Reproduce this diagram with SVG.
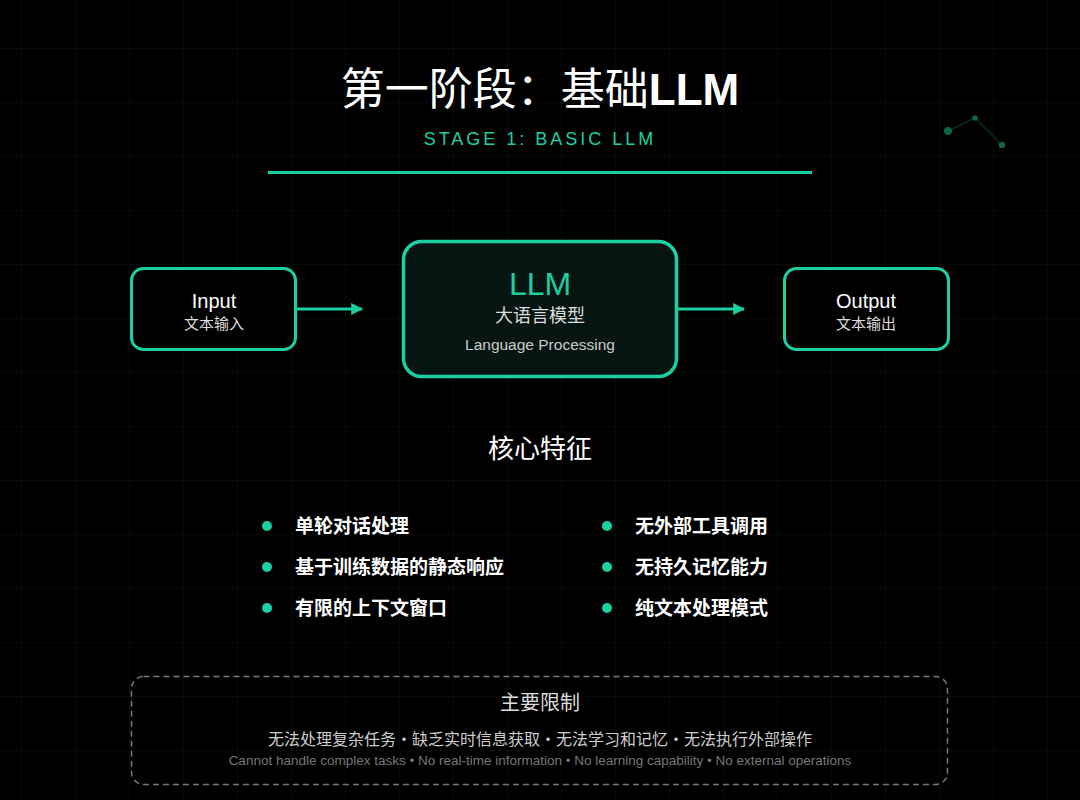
<svg xmlns="http://www.w3.org/2000/svg" width="1080" height="800" viewBox="0 0 1080 800">
<defs>
<pattern id="grid" width="54" height="54" patternUnits="userSpaceOnUse" x="-32" y="-5">
<path d="M54 0V54H0" fill="none" stroke="#0e1311" stroke-width="1"/>
</pattern>
<marker id="arr" viewBox="0 0 10 10" refX="9" refY="5" markerWidth="4" markerHeight="4" orient="auto" markerUnits="strokeWidth">
<path d="M0 0L10 5L0 10z" fill="#1ccfa2"/>
</marker>
</defs>
<style>
.box{fill:#000;stroke:#1ccfa2;stroke-width:3}
.t{font-family:"Liberation Sans","Noto Sans CJK SC",sans-serif;text-anchor:middle}
.c{font-family:"Noto Sans CJK SC",sans-serif;text-anchor:middle}
.li{font-family:"Noto Sans CJK SC",sans-serif;font-size:19px;font-weight:bold;fill:#fff}
.dot{fill:#1ccfa2}
</style>
<rect width="1080" height="800" fill="#000"/>
<rect width="1080" height="800" fill="url(#grid)"/>
<g id="deco" opacity="0.6">
<path d="M948 131L975 118L1002 145" stroke="#0e4a3a" stroke-width="1.5" fill="none"/>
<circle cx="948" cy="131" r="4" fill="#1aa37f"/>
<circle cx="975" cy="118" r="2.8" fill="#1aa37f"/>
<circle cx="1002" cy="145" r="3.3" fill="#1aa37f"/>
</g>
<text x="540" y="105" class="c" font-size="44" fill="#fff">第一阶段：基础<tspan font-family="Liberation Sans" font-weight="bold">LLM</tspan></text>
<text x="540" y="145" class="t" font-size="18" fill="#1ccfa2" letter-spacing="3">STAGE 1: BASIC LLM</text>
<rect x="268" y="171" width="544" height="3" fill="#1ccfa2"/>
<g id="connectors">
<line x1="297" y1="309" x2="362" y2="309" stroke="#1ccfa2" stroke-width="3" marker-end="url(#arr)"/>
<line x1="678" y1="309" x2="744" y2="309" stroke="#1ccfa2" stroke-width="3" marker-end="url(#arr)"/>
</g>
<g id="input">
<rect x="131.5" y="268.5" width="164" height="81" rx="12" class="box"/>
<text x="214" y="308" class="t" font-size="20" fill="#fff">Input</text>
<text x="214" y="329" class="c" font-size="15" fill="#ddd">文本输入</text>
</g>
<g id="llm">
<rect x="403.5" y="241.5" width="273" height="135" rx="18" fill="#071512" stroke="#1ccfa2" stroke-width="3.5"/>
<text x="540" y="295" class="t" font-size="32" fill="#1ccfa2">LLM</text>
<text x="540" y="322" class="c" font-size="18" fill="#ddd">大语言模型</text>
<text x="540" y="350" class="t" font-size="15.5" fill="#ccc">Language Processing</text>
</g>
<g id="output">
<rect x="784.5" y="268.5" width="164" height="81" rx="12" class="box"/>
<text x="866" y="308" class="t" font-size="20" fill="#fff">Output</text>
<text x="866" y="329" class="c" font-size="15" fill="#ddd">文本输出</text>
</g>
<text x="540" y="458" class="c" font-size="26" fill="#fff">核心特征</text>
<g id="features">
<circle cx="267" cy="526" r="5" class="dot"/><text x="295" y="533" class="li">单轮对话处理</text>
<circle cx="267" cy="567" r="5" class="dot"/><text x="295" y="574" class="li">基于训练数据的静态响应</text>
<circle cx="267" cy="608" r="5" class="dot"/><text x="295" y="615" class="li">有限的上下文窗口</text>
<circle cx="607" cy="526" r="5" class="dot"/><text x="635" y="533" class="li">无外部工具调用</text>
<circle cx="607" cy="567" r="5" class="dot"/><text x="635" y="574" class="li">无持久记忆能力</text>
<circle cx="607" cy="608" r="5" class="dot"/><text x="635" y="615" class="li">纯文本处理模式</text>
</g>
<g id="limits">
<rect x="131.5" y="676.5" width="816" height="108" rx="12" fill="none" stroke="#777" stroke-width="1.5" stroke-dasharray="6 4"/>
<text x="540" y="710" class="c" font-size="20" fill="#ddd">主要限制</text>
<text x="540" y="745" class="c" font-size="16" fill="#ccc">无法处理复杂任务•缺乏实时信息获取•无法学习和记忆•无法执行外部操作</text>
<text x="540" y="765" class="t" font-size="13.5" fill="#777">Cannot handle complex tasks • No real-time information • No learning capability • No external operations</text>
</g>
</svg>
